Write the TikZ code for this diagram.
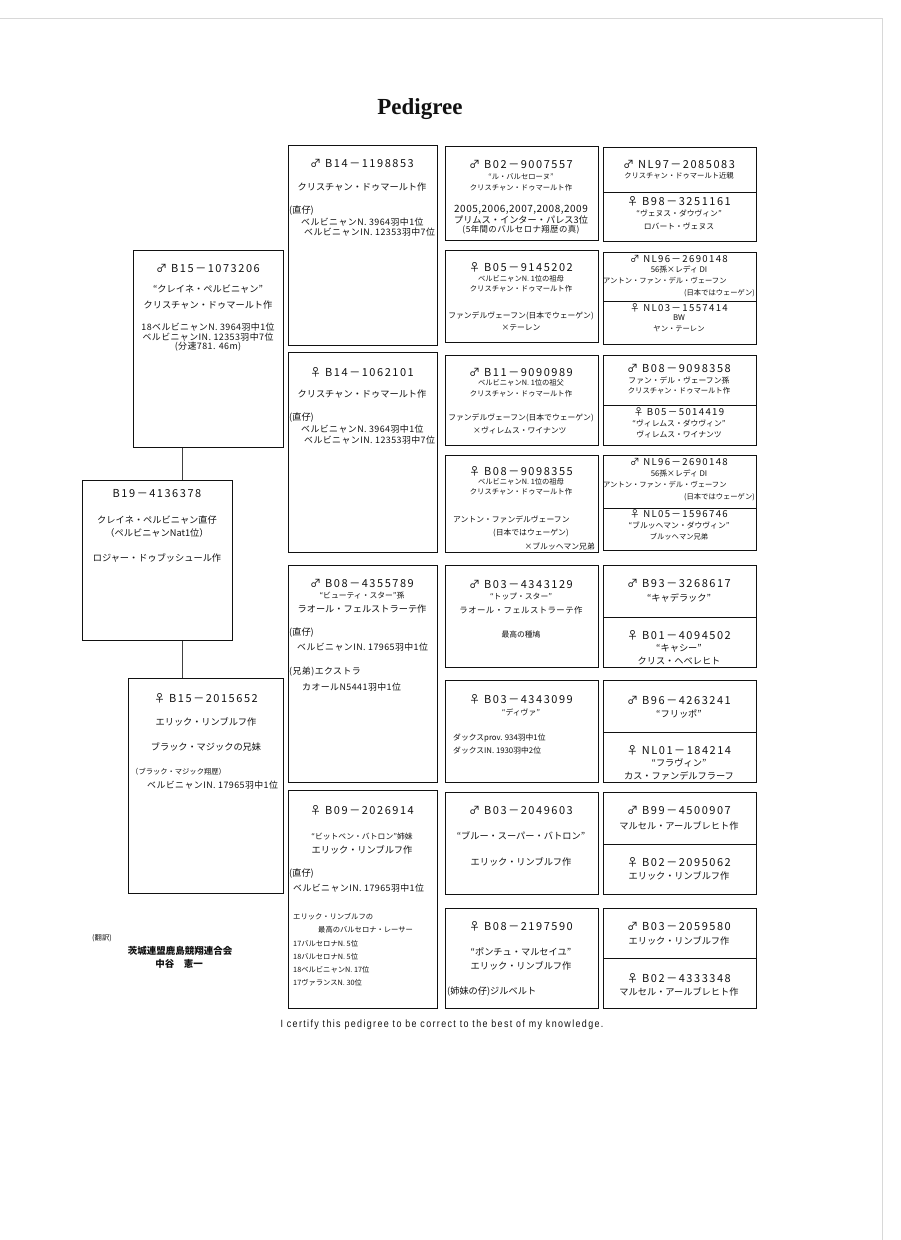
\documentclass[tikz,border=0pt]{standalone}
\usepackage{fontspec}
\usepackage{tikz}
\usetikzlibrary{positioning}
\setmainfont{Noto Sans CJK JP}
\newfontfamily\idfont{Noto Sans CJK JP}[LetterSpace=14]
\newfontfamily\resfont{Noto Sans CJK JP}[LetterSpace=5]
\newfontfamily\certfont{Liberation Sans}[FakeStretch=0.85,LetterSpace=13]
\newfontfamily\titlefont{Liberation Serif}
\definecolor{ink}{HTML}{111111}
\definecolor{paperedge}{HTML}{D8D8D8}
\tikzset{
  pbox/.style={draw=ink,line width=.9pt,anchor=north west,inner sep=0pt},
  div/.style={draw=ink,line width=.6pt},
  link/.style={draw=ink!80,line width=.6pt},
  idl/.style={inner sep=0pt,text=ink,font=\idfont\fontsize{11}{12}\selectfont},
  idsm/.style={inner sep=0pt,text=ink,font=\idfont\fontsize{9.6}{11}\selectfont},
  nml/.style={inner sep=0pt,text=ink,font=\fontsize{9.2}{11}\selectfont},
  rsl/.style={inner sep=0pt,text=ink,font=\resfont\fontsize{8.9}{10}\selectfont},
  sbl/.style={inner sep=0pt,text=ink,font=\fontsize{7.8}{9}\selectfont},
  sml/.style={inner sep=0pt,text=ink,font=\fontsize{7.3}{9}\selectfont}
}
\begin{document}
\begin{tikzpicture}[x=1pt,y=-1pt]
\fill[white] (0,0) rectangle (900,1240);
\useasboundingbox (0,0) rectangle (900,1240);
\draw[paperedge,line width=.8pt] (0,18) -- (882,18) -- (882,1240);
\node[text=ink,font=\titlefont\bfseries\fontsize{23}{23}\selectfont] (title) at (420,109) {Pedigree};
% parents and subject
\node[pbox,minimum width=150,minimum height=197] (s1) at (133,250) {};
\node[pbox,minimum width=150,minimum height=160] (b19) at (82,480) {};
\node[pbox,minimum width=155,minimum height=215] (d1) at (128,678) {};
\coordinate (lk) at (182,0);
\draw[link] (s1.south -| lk) -- (b19.north -| lk);
\draw[link] (b19.south -| lk) -- (d1.north -| lk);
\node[idl] (s1a) at (208,268) {♂ B15－1073206};
\node[nml] (s1b) at (208,289) {“クレイネ・ペルビニャン”};
\node[nml] (s1c) at (208,305) {クリスチャン・ドゥマールト作};
\node[rsl] (s1d) at (208,327) {18ベルビニャンN. 3964羽中1位};
\node[rsl] (s1e) at (208,337) {ベルビニャンIN. 12353羽中7位};
\node[rsl] (s1f) at (208,347) {(分速781. 46m)};
\node[idl] (b19a) at (157,494) {B19－4136378};
\node[nml] (b19b) at (157,520) {クレイネ・ペルビニャン直仔};
\node[nml] (b19c) at (157,533) {（ペルビニャンNat1位）};
\node[nml] (b19d) at (157,558) {ロジャー・ドゥブッシュール作};
\node[idl] (d1a) at (206,698) {♀ B15－2015652};
\node[nml] (d1b) at (206,722) {エリック・リンブルフ作};
\node[nml] (d1c) at (206,747) {ブラック・マジックの兄妹};
\node[sml,anchor=west] (d1d) at (131,772) {（ブラック・マジック翔歴）};
\node[rsl,anchor=west] (d1e) at (147,785) {ベルビニャンIN. 17965羽中1位};
% grandparents
\node[pbox,minimum width=149,minimum height=200] (c2a) at (288,145) {};
\node[pbox,minimum width=149,minimum height=200] (c2b) at (288,352) {};
\node[pbox,minimum width=149,minimum height=217] (c2c) at (288,565) {};
\node[pbox,minimum width=149,minimum height=218] (c2d) at (288,790) {};
\node[idl] (c2a1) at (362,163) {♂ B14－1198853};
\node[nml] (c2a2) at (362,187) {クリスチャン・ドゥマールト作};
\node[nml,anchor=west] (c2a3) at (289,211) {(直仔)};
\node[rsl,anchor=west] (c2a4) at (301,222) {ベルビニャンN. 3964羽中1位};
\node[rsl,anchor=west] (c2a5) at (304,232) {ベルビニャンIN. 12353羽中7位};
\node[idl] (c2b1) at (362,372) {♀ B14－1062101};
\node[nml] (c2b2) at (362,394) {クリスチャン・ドゥマールト作};
\node[nml,anchor=west] (c2b3) at (289,418) {(直仔)};
\node[rsl,anchor=west] (c2b4) at (301,429) {ベルビニャンN. 3964羽中1位};
\node[rsl,anchor=west] (c2b5) at (304,440) {ベルビニャンIN. 12353羽中7位};
\node[idl] (c2c1) at (362,583) {♂ B08－4355789};
\node[sbl] (c2c2) at (362,596) {“ビューティ・スター”孫};
\node[nml] (c2c3) at (362,609) {ラオール・フェルストラーテ作};
\node[nml,anchor=west] (c2c4) at (289,633) {(直仔)};
\node[rsl,anchor=west] (c2c5) at (297,647) {ベルビニャンIN. 17965羽中1位};
\node[rsl,anchor=west] (c2c6) at (289,672) {(兄弟)エクストラ};
\node[rsl,anchor=west] (c2c7) at (302,687) {カオールN5441羽中1位};
\node[idl] (c2d1) at (362,810) {♀ B09－2026914};
\node[sbl] (c2d2) at (362,837) {“ビットベン・バトロン”姉妹};
\node[nml] (c2d3) at (362,850) {エリック・リンブルフ作};
\node[nml,anchor=west] (c2d4) at (289,874) {(直仔)};
\node[rsl,anchor=west] (c2d5) at (293,888) {ベルビニャンIN. 17965羽中1位};
\node[sml,anchor=west] (c2d6) at (293,917) {エリック・リンブルフの};
\node[sml,anchor=west] (c2d7) at (318,930) {最高のバルセロナ・レーサー};
\node[sml,anchor=west] (c2d8) at (293,944) {17バルセロナN. 5位};
\node[sml,anchor=west] (c2d9) at (293,957) {18バルセロナN. 5位};
\node[sml,anchor=west] (c2d10) at (293,970) {18ベルビニャンN. 17位};
\node[sml,anchor=west] (c2d11) at (293,983) {17ヴァランスN. 30位};
% great-grandparents
\node[pbox,minimum width=153,minimum height=94] (c3a) at (445,146) {};
\node[pbox,minimum width=153,minimum height=92] (c3b) at (445,250) {};
\node[pbox,minimum width=153,minimum height=90] (c3c) at (445,355) {};
\node[pbox,minimum width=153,minimum height=97] (c3d) at (445,455) {};
\node[pbox,minimum width=153,minimum height=102] (c3e) at (445,565) {};
\node[pbox,minimum width=153,minimum height=102] (c3f) at (445,680) {};
\node[pbox,minimum width=153,minimum height=102] (c3g) at (445,792) {};
\node[pbox,minimum width=153,minimum height=100] (c3h) at (445,908) {};
\node[idl] (c3a1) at (521,164) {♂ B02－9007557};
\node[sml] (c3a2) at (521,177) {“ル・バルセローヌ”};
\node[sml] (c3a3) at (521,188) {クリスチャン・ドゥマールト作};
\node[rsl,font=\resfont\fontsize{10}{12}\selectfont] (c3a4) at (521,210) {2005,2006,2007,2008,2009};
\node[nml] (c3a5) at (521,220) {プリムス・インター・パレス3位};
\node[rsl,font=\resfont\fontsize{8.4}{10}\selectfont] (c3a6) at (521,230) {(5年間のバルセロナ翔歴の真)};
\node[idl] (c3b1) at (521,267) {♀ B05－9145202};
\node[sml] (c3b2) at (521,279) {ベルビニャンN. 1位の祖母};
\node[sml] (c3b3) at (521,289) {クリスチャン・ドゥマールト作};
\node[sbl] (c3b4) at (521,316) {ファンデルヴェーフン(日本でウェーゲン)};
\node[sbl] (c3b5) at (521,328) {×テーレン};
\node[idl] (c3c1) at (521,372) {♂ B11－9090989};
\node[sml] (c3c2) at (521,383) {ベルビニャンN. 1位の祖父};
\node[sml] (c3c3) at (521,394) {クリスチャン・ドゥマールト作};
\node[sbl] (c3c4) at (521,418) {ファンデルヴェーフン(日本でウェーゲン)};
\node[sbl,anchor=west] (c3c5) at (473,430) {×ヴィレムス・ワイナンツ};
\node[idl] (c3d1) at (521,471) {♀ B08－9098355};
\node[sml] (c3d2) at (521,482) {ベルビニャンN. 1位の祖母};
\node[sml] (c3d3) at (521,492) {クリスチャン・ドゥマールト作};
\node[sbl,anchor=west] (c3d4) at (453,519) {アントン・ファンデルヴェーフン};
\node[sbl,anchor=west] (c3d5) at (493,533) {(日本ではウェーゲン)};
\node[sbl,anchor=east] (c3d6) at (595,546) {×ブルッヘマン兄弟};
\node[idl] (c3e1) at (521,584) {♂ B03－4343129};
\node[sbl] (c3e2) at (521,597) {“トップ・スター”};
\node[rsl,font=\resfont\fontsize{8.4}{10}\selectfont] (c3e3) at (521,610) {ラオール・フェルストラーテ作};
\node[sbl] (c3e4) at (521,635) {最高の種鳩};
\node[idl] (c3f1) at (521,699) {♀ B03－4343099};
\node[sbl] (c3f2) at (521,712) {“ディヴァ”};
\node[sbl,anchor=west] (c3f3) at (453,738) {ダックスprov. 934羽中1位};
\node[sbl,anchor=west] (c3f4) at (453,750) {ダックスIN. 1930羽中2位};
\node[idl] (c3g1) at (521,810) {♂ B03－2049603};
\node[nml] (c3g2) at (521,836) {“ブルー・スーパー・バトロン”};
\node[nml] (c3g3) at (521,862) {エリック・リンブルフ作};
\node[idl] (c3h1) at (521,926) {♀ B08－2197590};
\node[nml] (c3h2) at (521,952) {“ポンチュ・マルセイユ”};
\node[nml] (c3h3) at (521,966) {エリック・リンブルフ作};
\node[nml,anchor=west] (c3h4) at (447,992) {(姉妹の仔)ジルベルト};
% great-great-grandparents, sire above the line and dam below
\node[pbox,minimum width=153,minimum height=94] (c4a) at (603,147) {};
\node[pbox,minimum width=153,minimum height=92] (c4b) at (603,252) {};
\node[pbox,minimum width=153,minimum height=90] (c4c) at (603,355) {};
\node[pbox,minimum width=153,minimum height=95] (c4d) at (603,455) {};
\node[pbox,minimum width=153,minimum height=102] (c4e) at (603,565) {};
\node[pbox,minimum width=153,minimum height=102] (c4f) at (603,680) {};
\node[pbox,minimum width=153,minimum height=102] (c4g) at (603,792) {};
\node[pbox,minimum width=153,minimum height=100] (c4h) at (603,908) {};
\draw[div] (c4a.west |- 0,192) -- (c4a.east |- 0,192);
\draw[div] (c4b.west |- 0,301) -- (c4b.east |- 0,301);
\draw[div] (c4c.west |- 0,405) -- (c4c.east |- 0,405);
\draw[div] (c4d.west |- 0,508) -- (c4d.east |- 0,508);
\draw[div] (c4e.west |- 0,617) -- (c4e.east |- 0,617);
\draw[div] (c4f.west |- 0,732) -- (c4f.east |- 0,732);
\draw[div] (c4g.west |- 0,844) -- (c4g.east |- 0,844);
\draw[div] (c4h.west |- 0,958) -- (c4h.east |- 0,958);
\node[idl] (c4a1) at (679,164) {♂ NL97－2085083};
\node[sml] (c4a2) at (679,176) {クリスチャン・ドゥマールト近親};
\node[idl] (c4a3) at (679,201) {♀ B98－3251161};
\node[sbl] (c4a4) at (679,213) {“ヴェヌス・ダウヴィン”};
\node[sbl] (c4a5) at (679,226) {ロバート・ヴェヌス};
\node[idsm] (c4b1) at (679,259) {♂ NL96－2690148};
\node[sbl] (c4b2) at (679,269) {56孫×レディ DI};
\node[sml,anchor=west] (c4b3) at (603,281) {アントン・ファン・デル・ヴェーフン};
\node[sml,anchor=east] (c4b4) at (755,293) {(日本ではウェーゲン)};
\node[idsm] (c4b5) at (679,308) {♀ NL03－1557414};
\node[sbl] (c4b6) at (679,318) {BW};
\node[sml] (c4b7) at (679,329) {ヤン・テーレン};
\node[idl] (c4c1) at (679,368) {♂ B08－9098358};
\node[sbl] (c4c2) at (679,380) {ファン・デル・ヴェーフン孫};
\node[sml] (c4c3) at (679,391) {クリスチャン・ドゥマールト作};
\node[idsm] (c4c4) at (679,412) {♀ B05－5014419};
\node[sbl] (c4c5) at (679,423) {“ヴィレムス・ダウヴィン”};
\node[sbl] (c4c6) at (679,434) {ヴィレムス・ワイナンツ};
\node[idsm] (c4d1) at (679,462) {♂ NL96－2690148};
\node[sbl] (c4d2) at (679,473) {56孫×レディ DI};
\node[sml,anchor=west] (c4d3) at (603,485) {アントン・ファン・デル・ヴェーフン};
\node[sml,anchor=east] (c4d4) at (755,497) {(日本ではウェーゲン)};
\node[idsm] (c4d5) at (679,514) {♀ NL05－1596746};
\node[sbl] (c4d6) at (679,525) {“ブルッヘマン・ダウヴィン”};
\node[sml] (c4d7) at (679,537) {ブルッヘマン兄弟};
\node[idl] (c4e1) at (679,583) {♂ B93－3268617};
\node[nml] (c4e2) at (679,598) {“キャデラック”};
\node[idl] (c4e3) at (679,635) {♀ B01－4094502};
\node[nml] (c4e4) at (679,648) {“キャシー”};
\node[nml] (c4e5) at (679,661) {クリス・ヘベレヒト};
\node[idl] (c4f1) at (679,700) {♂ B96－4263241};
\node[nml] (c4f2) at (679,714) {“フリッポ”};
\node[idl] (c4f3) at (679,750) {♀ NL01－184214};
\node[nml] (c4f4) at (679,763) {“フラヴィン”};
\node[nml] (c4f5) at (679,776) {カス・ファンデルフラーフ};
\node[idl] (c4g1) at (679,810) {♂ B99－4500907};
\node[nml] (c4g2) at (679,826) {マルセル・アールブレヒト作};
\node[idl] (c4g3) at (679,862) {♀ B02－2095062};
\node[nml] (c4g4) at (679,876) {エリック・リンブルフ作};
\node[idl] (c4h1) at (679,926) {♂ B03－2059580};
\node[nml] (c4h2) at (679,941) {エリック・リンブルフ作};
\node[idl] (c4h3) at (679,978) {♀ B02－4333348};
\node[nml] (c4h4) at (679,992) {マルセル・アールブレヒト作};
% translator and footer
\node[sml] (tr1) at (102,938) {(翻訳)};
\node[nml,font=\bfseries\fontsize{9.5}{11}\selectfont] (tr2) at (180,951) {茨城連盟鹿島競翔連合会};
\node[nml,font=\bfseries\fontsize{9.5}{11}\selectfont] (tr3) at (179,964) {中谷　憲一};
\node[text=ink,inner sep=0pt,font=\certfont\fontsize{10.5}{12}\selectfont] (cert) at (442,1025) {I certify this pedigree to be correct to the best of my knowledge.};
\end{tikzpicture}
\end{document}
